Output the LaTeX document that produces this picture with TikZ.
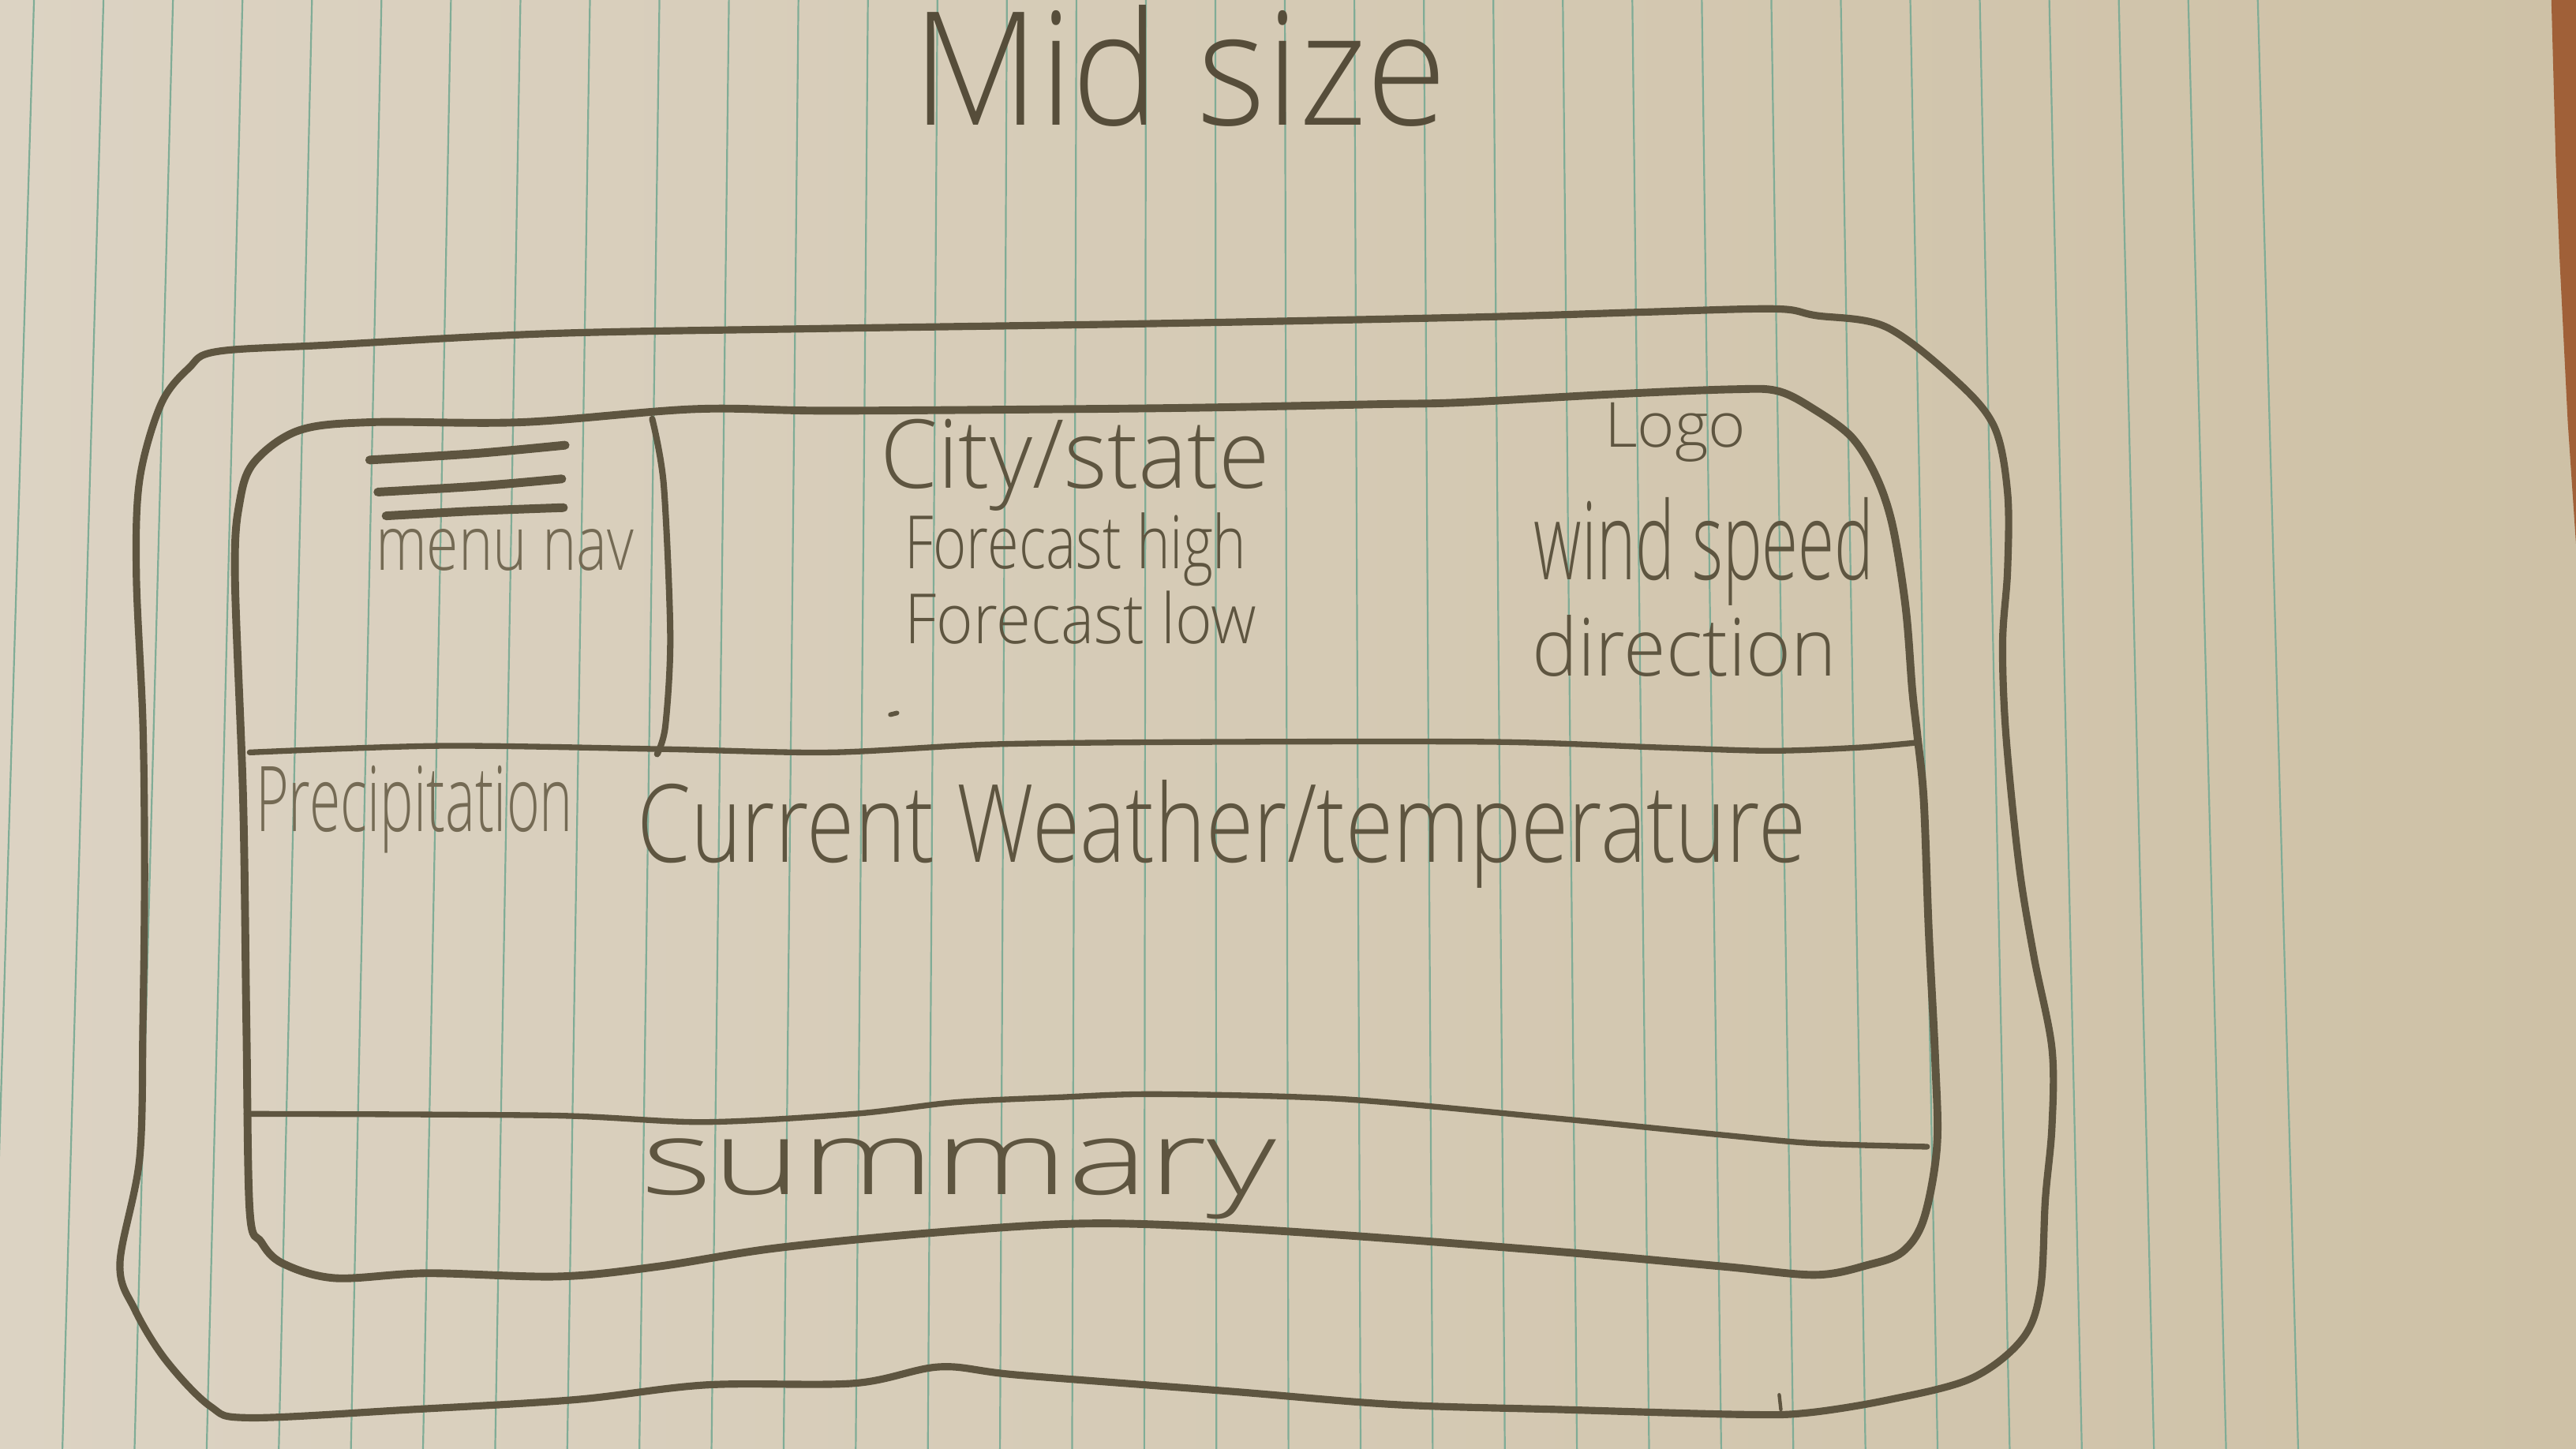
\documentclass[tikz,border=0pt]{standalone}
\usepackage{fontspec}
\IfFontExistsTF{Open Sans Light}{\setmainfont{Open Sans Light}}{\setmainfont{Open Sans}}
\usepackage{graphicx}
\definecolor{paperL}{RGB}{220,211,195}
\definecolor{paperR}{RGB}{206,193,166}
\definecolor{rulec}{RGB}{128,172,150}
\definecolor{pencil}{RGB}{94,85,64}
\definecolor{pencilD}{RGB}{86,77,58}
\definecolor{pencilL}{RGB}{116,106,84}
\definecolor{wood}{RGB}{160,96,56}
\tikzset{
  rule/.style={draw=rulec, line width=0.3pt},
  pencilline/.style={draw=pencil, line width=1.2pt, line cap=round, line join=round},
  lbl/.style={inner sep=0pt, anchor=base west, text=pencil}
}
\begin{document}
\begin{tikzpicture}[x=0.01cm,y=-0.01cm]
\useasboundingbox (0,0) rectangle (1568,882);
% paper
\shade[left color=paperL, right color=paperR] (0,0) rectangle (1568,882);
% table edge at top right
\fill[wood] (1553,0) -- (1568,0) -- (1568,331) -- (1563,257) -- (1558,157) -- (1555.7,98) -- cycle;
% ruled lines
\begin{scope}
\clip (0,0) rectangle (1568,882);
\foreach \k in {-1,...,31}{
  \pgfmathsetmacro{\xt}{63+42.3*\k}
  \pgfmathsetmacro{\xb}{38+43.9*\k}
  \draw[rule] (\xt,0) -- (\xb,882);
}
\end{scope}

% outer frame
\draw[pencilline, line width=1.25pt] plot[smooth cycle, tension=0.55] coordinates {
 (132,214) (200,210) (336,203) (500,200) (700,197) (900,193) (1000,190) (1080,188)
 (1105,192) (1148,199) (1191,232) (1214,260) (1222,300) (1222,347) (1219,391)
 (1221,447) (1229,527) (1238,582) (1249,638) (1249,686) (1245,730) (1242,785)
 (1231,815) (1200,839) (1150,852) (1100,860) (1060,861) (950,858) (850,855)
 (750,847) (620,837) (572,832) (520,842) (430,843) (350,852) (250,858) (152,863)
 (128,856) (101,828) (82,797) (73,769) (85,705) (87,623) (88,532) (87,441)
 (83,350) (85,292) (98,246) (115,224)};

% inner frame
\draw[pencilline, line width=1.35pt] plot[smooth cycle, tension=0.55] coordinates {
 (182,262) (226,257) (318,257) (423,249) (504,250) (654,249) (740,248) (841,246)
 (889,245) (981,240) (1054,237) (1082,238) (1104,249) (1127,266) (1142,290)
 (1152,320) (1160,370) (1164,420) (1167,447) (1171,487) (1174,566) (1178,646)
 (1179,698) (1171,742) (1158,762) (1137,770) (1105,776) (1050,771) (950,762)
 (820,752) (720,746) (650,745) (560,751) (470,760) (400,771) (340,777) (260,775)
 (204,778) (172,769) (159,756) (152,737) (150,624) (148,487) (143,350) (146,305)
 (155,281)};

% header / content divider
\draw[pencilline, line width=1.0pt] plot[smooth, tension=0.5] coordinates {
 (152,458) (269,454) (404,456) (505,458) (606,453) (741,451.6) (910,451.6)
 (1011,455) (1078,457) (1132,455) (1167,452)};
% summary divider
\draw[pencilline, line width=1.0pt] plot[smooth, tension=0.5] coordinates {
 (150,678) (336,679) (428,683) (520,678) (581,671) (643,668) (704,666) (817,669)
 (950,681) (1050,691) (1105,696) (1173,698)};
% menu column divider
\draw[pencilline, line width=1.1pt] plot[smooth, tension=0.5] coordinates {
 (397,255) (404,295) (408,387) (405,442) (400,459)};

% hamburger icon
\draw[pencilline, line width=1.5pt] plot[smooth] coordinates {(225,280) (290,276) (344,271)};
\draw[pencilline, line width=1.5pt] plot[smooth] coordinates {(230,299.5) (290,296) (342,291.5)};
\draw[pencilline, line width=1.5pt] plot[smooth] coordinates {(235,314) (290,311) (343,309)};

% stray marks
\draw[pencilline, line width=0.6pt] (1083,849) -- (1084,858);
\draw[pencilline, line width=0.8pt] (542,435) -- (546,434);

% texts
\node[lbl, text=pencilD] (title) at (555,76) {\resizebox{3.25cm}{0.73cm}{Mid size}};
\node[lbl, text=pencilL] (menu) at (228,347) {\resizebox{1.57cm}{0.25cm}{menu nav}};
\node[lbl] (city) at (535,297) {\resizebox{2.37cm}{0.42cm}{City/state}};
\node[lbl] (fhigh) at (550,346) {\resizebox{2.08cm}{0.34cm}{Forecast high}};
\node[lbl] (flow) at (550,392) {\resizebox{2.14cm}{0.32cm}{Forecast low}};
\node[lbl] (logo) at (976,272) {\resizebox{0.86cm}{0.27cm}{Logo}};
\node[lbl] (wind) at (933,353) {\resizebox{2.07cm}{0.50cm}{wind speed}};
\node[lbl] (dir) at (932,411.5) {\resizebox{1.85cm}{0.37cm}{direction}};
\node[lbl, text=pencilL] (precip) at (155,506) {\resizebox{1.93cm}{0.40cm}{Precipitation}};
\node[lbl] (current) at (387,525) {\resizebox{7.11cm}{0.50cm}{Current Weather/temperature}};
\node[lbl] (summary) at (390,727) {\resizebox{3.86cm}{0.34cm}{summary}};
\end{tikzpicture}
\end{document}
